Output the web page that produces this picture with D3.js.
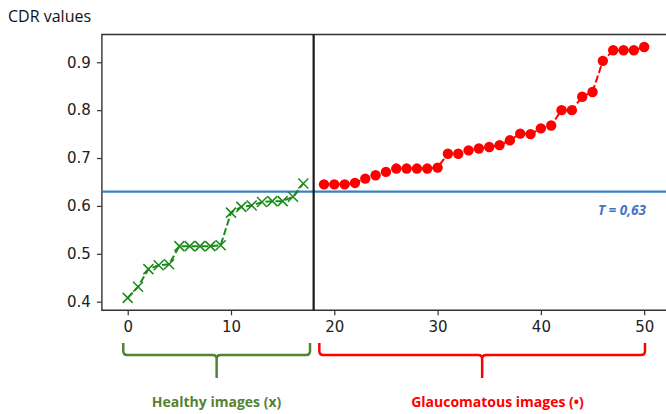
<!DOCTYPE html>
<html>
<head>
<meta charset="utf-8">
<script src="https://cdn.jsdelivr.net/npm/d3@7"></script>
<style>
  html, body { margin: 0; padding: 0; background: #fff; }
  svg { display: block; }
</style>
</head>
<body>
<svg id="chart" width="666" height="414"></svg>
<script>
// ---- data ----
const healthyX = d3.range(0, 18);
const healthyY = [0.408, 0.431, 0.468, 0.476, 0.478, 0.516, 0.516, 0.516, 0.516, 0.518,
                  0.586, 0.598, 0.601, 0.608, 0.610, 0.610, 0.619, 0.647];
const glaucomaX = d3.range(19, 51);
const glaucomaY = [0.645, 0.645, 0.645, 0.648, 0.657, 0.664, 0.671, 0.678, 0.678, 0.678,
                   0.678, 0.680, 0.709, 0.709, 0.716, 0.720, 0.723, 0.727, 0.737, 0.751,
                   0.750, 0.762, 0.768, 0.800, 0.800, 0.828, 0.838, 0.903, 0.925, 0.925,
                   0.925, 0.932];
const threshold = 0.63;
const thresholdLabel = "T = 0,63";
const splitX = 18;
const xTicks = [0, 10, 20, 30, 40, 50];
const yTicks = [0.4, 0.5, 0.6, 0.7, 0.8, 0.9];
const yTitle = "CDR values";
const groupNames = ["Healthy images (x)", "Glaucomatous images (\u2022)"];
const groupFrom = [-0.43, 18.55];
const groupTo = [17.65, 50.08];
const groupLabelAt = [8.6, 35.8];
const groupColors = ["#548235", "#ff0000"];

// ---- layout ----
const svg = d3.select("#chart");
const x = d3.scaleLinear().domain([-2.5, 52.5]).range([101.9, 670]);
const y = d3.scaleLinear().domain([0.382, 0.958]).range([310.3, 34.5]);

// title
svg.append("text").attr("x", 8).attr("y", 22)
  .attr("font-family", "'Open Sans', sans-serif").attr("font-size", 16)
  .attr("fill", "#111").text(yTitle);

// axes
const axisFont = "'DejaVu Sans', sans-serif";
const gx = svg.append("g").attr("transform", `translate(0,${y.range()[0]})`)
  .call(d3.axisBottom(x).tickValues(xTicks).tickFormat(d3.format("d")).tickSize(5).tickPadding(6));
const gy = svg.append("g").attr("transform", `translate(${x.range()[0]},0)`)
  .call(d3.axisLeft(y).tickValues(yTicks).tickFormat(d3.format(".1f")).tickSize(5).tickPadding(6));
[gx, gy].forEach(g => {
  g.select(".domain").remove();
  g.selectAll(".tick line").attr("stroke", "#333").attr("stroke-width", 1.2);
  g.selectAll(".tick text").attr("font-family", axisFont).attr("font-size", 15).attr("fill", "#222");
});

// frame (left, top, bottom; right lies outside the picture)
const [x0, x1] = x.range();
const [yb, yt] = y.range();
svg.append("path")
  .attr("d", `M${x1},${yt}H${x0}V${yb}H${x1}`)
  .attr("fill", "none").attr("stroke", "#333").attr("stroke-width", 1.4);

// threshold line
svg.append("line").attr("x1", x0).attr("x2", x1)
  .attr("y1", y(threshold)).attr("y2", y(threshold))
  .attr("stroke", "#3a80c0").attr("stroke-width", 2.2);

// split line
svg.append("line").attr("x1", x(splitX)).attr("x2", x(splitX))
  .attr("y1", yt).attr("y2", yb)
  .attr("stroke", "#1a1a1a").attr("stroke-width", 2.2);

// series
const healthy = healthyX.map((d, i) => [d, healthyY[i]]);
const glaucoma = glaucomaX.map((d, i) => [d, glaucomaY[i]]);
const line = d3.line().x(d => x(d[0])).y(d => y(d[1]));

svg.append("path").attr("d", line(healthy))
  .attr("fill", "none").attr("stroke", "#1a8a1a").attr("stroke-width", 2)
  .attr("stroke-dasharray", "7,3");
svg.append("g").selectAll("path").data(healthy).join("path")
  .attr("transform", d => `translate(${x(d[0])},${y(d[1])})`)
  .attr("d", "M-5,-5L5,5M-5,5L5,-5")
  .attr("stroke", "#1a8a1a").attr("stroke-width", 1.5).attr("fill", "none");

svg.append("path").attr("d", line(glaucoma))
  .attr("fill", "none").attr("stroke", "#ff0000").attr("stroke-width", 2)
  .attr("stroke-dasharray", "7,3");
svg.append("g").selectAll("circle").data(glaucoma).join("circle")
  .attr("cx", d => x(d[0])).attr("cy", d => y(d[1])).attr("r", 5.2)
  .attr("fill", "#ff0000");

// threshold label
svg.append("text").attr("x", 646).attr("y", 215).attr("text-anchor", "end")
  .attr("font-family", "'Open Sans', sans-serif").attr("font-size", 13.5)
  .attr("font-weight", "bold").attr("font-style", "italic")
  .attr("fill", "#4472c4").text(thresholdLabel);

// braces and group labels
const braceTop = 343, braceMid = 355, braceBottom = 378, r = 4;
groupNames.forEach((name, i) => {
  const a = x(groupFrom[i]), b = x(groupTo[i]), m = (a + b) / 2;
  const d = `M${a},${braceTop}V${braceMid - r}Q${a},${braceMid} ${a + r},${braceMid}` +
            `H${m - r}Q${m},${braceMid} ${m},${braceMid + r}V${braceBottom}` +
            `M${m},${braceMid + r}Q${m},${braceMid} ${m + r},${braceMid}` +
            `H${b - r}Q${b},${braceMid} ${b},${braceMid - r}V${braceTop}`;
  svg.append("path").attr("d", d).attr("fill", "none")
    .attr("stroke", groupColors[i]).attr("stroke-width", 2.5);
  svg.append("text").attr("x", x(groupLabelAt[i])).attr("y", 407)
    .attr("text-anchor", "middle")
    .attr("font-family", "'Open Sans', sans-serif").attr("font-size", 14).attr("font-weight", "bold")
    .attr("fill", groupColors[i]).text(name);
});
</script>
</body>
</html>
